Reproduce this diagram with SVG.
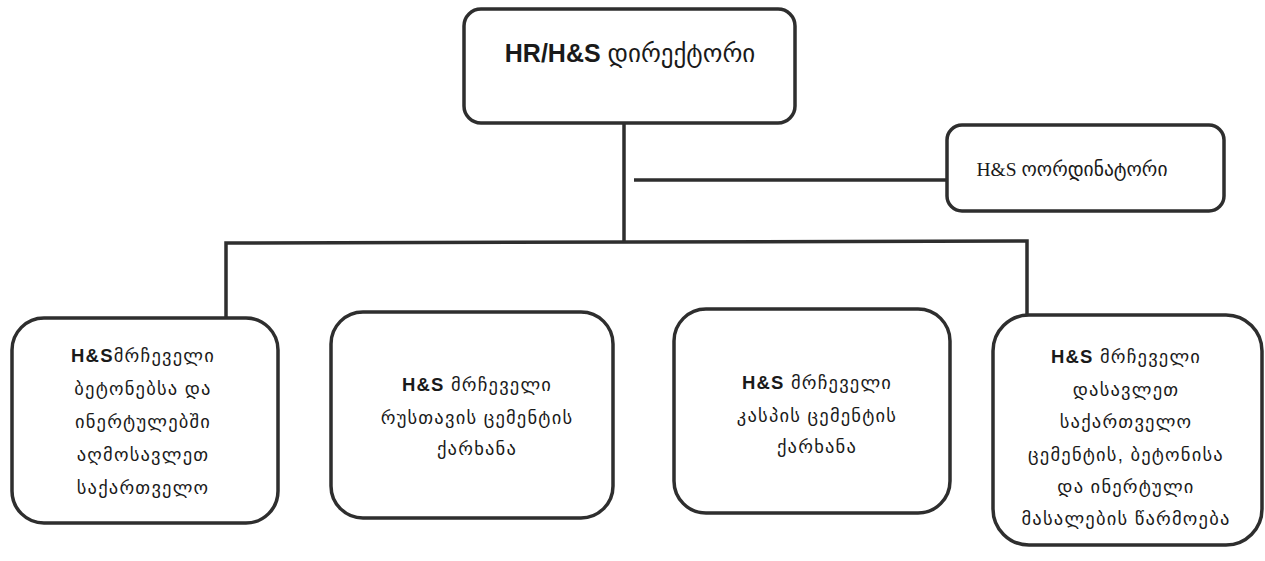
<svg xmlns="http://www.w3.org/2000/svg" width="1265" height="561" viewBox="0 0 1265 561">
<style>
.box{fill:#fff;stroke:#2e2e2e;stroke-width:3.5}
.ln{fill:none;stroke:#2e2e2e;stroke-width:3.5}
.t{font-family:"Liberation Sans","DejaVu Sans",sans-serif;font-size:18.5px;fill:#1a1a1a;text-anchor:middle}
.s{letter-spacing:1.2px}
.b{font-weight:bold}
</style>
<rect width="1265" height="561" fill="#fff"/>
<g id="connectors">
<line class="ln" x1="624" y1="123" x2="624" y2="243"/>
<line class="ln" x1="634" y1="180" x2="947" y2="180"/>
<polyline class="ln" points="226,318 226,243 1027,241 1027,315"/>
</g>
<g id="director">
<rect class="box" x="464" y="9" width="331" height="114" rx="17"/>
<text class="t" x="630" y="62" style="font-size:25px"><tspan class="b">HR/H&amp;S</tspan> დირექტორი</text>
</g>
<g id="coordinator">
<rect class="box" x="947" y="125" width="277" height="86" rx="15"/>
<text class="t" x="1072" y="176" style="font-family:'Liberation Serif','DejaVu Sans',serif;font-size:19.5px">H&amp;S ოორდინატორი</text>
</g>
<g id="advisor-east">
<rect class="box" x="12" y="318" width="266" height="205" rx="32"/>
<text class="t s"><tspan x="143" y="362"><tspan class="b">H&amp;S</tspan>მრჩეველი</tspan><tspan x="143" y="395">ბეტონებსა და</tspan><tspan x="143" y="428">ინერტულებში</tspan><tspan x="143" y="461">აღმოსავლეთ</tspan><tspan x="143" y="494">საქართველო</tspan></text>
</g>
<g id="advisor-rustavi">
<rect class="box" x="331" y="312" width="282" height="206" rx="32"/>
<text class="t s"><tspan x="477" y="391"><tspan class="b">H&amp;S</tspan> მრჩეველი</tspan><tspan x="477" y="424">რუსთავის ცემენტის</tspan><tspan x="477" y="455">ქარხანა</tspan></text>
</g>
<g id="advisor-kaspi">
<rect class="box" x="674" y="309" width="276" height="204" rx="32"/>
<text class="t s"><tspan x="817" y="389"><tspan class="b">H&amp;S</tspan> მრჩეველი</tspan><tspan x="817" y="422">კასპის ცემენტის</tspan><tspan x="817" y="453">ქარხანა</tspan></text>
</g>
<g id="advisor-west">
<rect class="box" x="993" y="315" width="269" height="230" rx="36"/>
<text class="t s"><tspan x="1126" y="363"><tspan class="b">H&amp;S</tspan> მრჩეველი</tspan><tspan x="1126" y="396">დასავლეთ</tspan><tspan x="1126" y="428">საქართველო</tspan><tspan x="1126" y="461">ცემენტის, ბეტონისა</tspan><tspan x="1126" y="493">და ინერტული</tspan><tspan x="1126" y="525">მასალების წარმოება</tspan></text>
</g>
</svg>
